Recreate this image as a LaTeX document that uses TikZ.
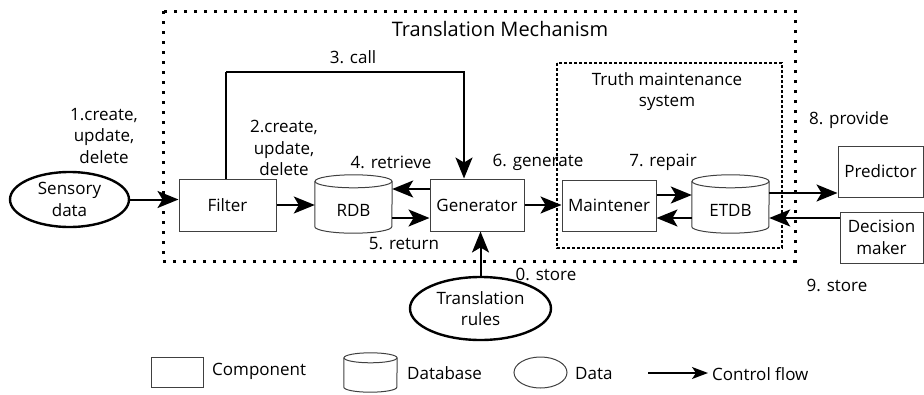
\documentclass[tikz,border=0pt]{standalone}
\usepackage{fontspec}
\setmainfont{Open Sans}
\usetikzlibrary{arrows.meta,shapes.geometric,calc}
\begin{document}
\begin{tikzpicture}[x=1pt,y=-1pt,
  every node/.style={font=\fontsize{17}{21.5}\selectfont, inner sep=0pt},
  comp/.style={draw=black!75, line width=1pt, rectangle, align=center},
  dbbox/.style={draw=none, rectangle},
  dataell/.style={draw=black, line width=2.4pt, ellipse, align=center},
  lbl/.style={align=center},
  arr/.style={line width=2pt, -{Stealth[length=21pt,width=17pt,inset=5pt]}},
  outerbox/.style={line width=3pt, dash pattern=on 3pt off 7pt},
  innerbox/.style={line width=1.3pt, dash pattern=on 3pt off 2pt}]
\useasboundingbox (0,0) rectangle (924,394);

% boxes
\draw[outerbox] (163,11) rectangle (795,261);
\draw[innerbox] (557,63) rectangle (782,248);
\node[lbl, font=\fontsize{20}{22}\selectfont] (title) at (500,29) {Translation Mechanism};
\node[lbl] (tms) at (667,91.5) {Truth maintenance\\system};

% nodes
\node[dataell, minimum width=119, minimum height=55] (sens) at (69.5,199.5) {Sensory\\data};
\node[comp, minimum width=97, minimum height=52] (filter) at (227.5,205) {Filter};
\node[dbbox, minimum width=77, minimum height=58] (rdb) at (353.5,204) {};
\node[comp, minimum width=94, minimum height=52] (gen) at (477,205) {Generator};
\node[comp, minimum width=94, minimum height=51] (maint) at (609,205.5) {Maintener};
\node[dbbox, minimum width=77, minimum height=58] (etdb) at (730.5,204) {};
\node[comp, minimum width=85, minimum height=51] (pred) at (880.5,171.5) {Predictor};
\node[comp, minimum width=83, minimum height=51] (dec) at (881.5,237.5) {Decision\\maker};
\node[dataell, minimum width=141, minimum height=63] (rules) at (480.5,308.5) {Translation\\rules};

% cylinders
\foreach \c in {rdb,etdb}{
  \draw[draw=black!75, line width=1pt, fill=white]
    ([yshift=-6.5pt]\c.north west) -- ([yshift=6.5pt]\c.south west)
    arc[start angle=180, end angle=360, x radius=38.5pt, y radius=6.5pt]
    -- ([yshift=-6.5pt]\c.north east);
  \draw[draw=black!75, line width=1pt] ($(\c.north)+(0,6.5)$) ellipse [x radius=38.5pt, y radius=6.5pt];
}
\node (rdbt) at ($(rdb)+(0,6)$) {RDB};
\node (etdbt) at ($(etdb)+(0,6)$) {ETDB};

% connectors
\draw[arr] (sens.east) -- (sens.east -| filter.west);
\draw[arr] (filter.east) -- (filter.east -| rdb.west);
\draw[arr] ([yshift=16pt]gen.west) -- ([yshift=16pt]gen.west -| rdb.east);
\draw[arr] ([yshift=-13pt]gen.west -| rdb.east) -- ([yshift=-13pt]gen.west);
\draw[line width=2pt] ([xshift=-1.5pt]filter.north) -- ++(0,-107) coordinate (c1);
\draw[arr] (c1) -| ([xshift=-13pt]gen.north);
\draw[arr] (gen.east) -- (gen.east -| maint.west);
\draw[arr] ([yshift=10.5pt]maint.east) -- ([yshift=10.5pt]maint.east -| etdb.west);
\draw[arr] ([yshift=-12.5pt]maint.east -| etdb.west) -- ([yshift=-12.5pt]maint.east);
\draw[arr] ([yshift=11pt]etdb.east) -- ([yshift=11pt]etdb.east -| pred.west);
\draw[arr] ([yshift=-14pt]etdb.east -| dec.west) -- ([yshift=-14pt]etdb.east);
\draw[arr] (rules.north) -- (rules.north |- gen.south);

% labels
\node[lbl] (l1) at (104,136) {1.create,\\update,\\delete};
\node[lbl] (l2) at (284,148) {2.create,\\update,\\delete};
\node[lbl] (l3) at (353,57) {3. call};
\node[lbl] (l4) at (391,162) {4. retrieve};
\node[lbl] (l5) at (404,244) {5. return};
\node[lbl] (l6) at (538,162) {6. generate};
\node[lbl] (l7) at (663,162) {7. repair};
\node[lbl] (l8) at (849,120) {8. provide};
\node[lbl] (l9) at (837,285) {9. store};
\node[lbl] (l0) at (546,274) {0. store};

% legend
\node[comp, minimum width=52, minimum height=30] (lgc) at (177,372) {};
\node[anchor=west] (lgct) at (212,371) {Component};
\node[dbbox, minimum width=53, minimum height=39] (lgd) at (370.5,372.5) {};
\draw[draw=black!75, line width=1pt]
  ([yshift=-5pt]lgd.north west) -- ([yshift=5pt]lgd.south west)
  arc[start angle=180, end angle=360, x radius=26.5pt, y radius=5pt]
  -- ([yshift=-5pt]lgd.north east);
\draw[draw=black!75, line width=1pt] ($(lgd.north)+(0,5)$) ellipse [x radius=26.5pt, y radius=5pt];
\node[anchor=west] (lgdt) at (407,373) {Database};
\node[draw=black!75, line width=1pt, ellipse, minimum width=53, minimum height=31] (lge) at (540.5,372.5) {};
\node[anchor=west] (lget) at (575,374) {Data};
\coordinate (lga) at (648,373);
\coordinate (lgb) at (708,373);
\node[anchor=west] (lgat) at (712,374) {Control flow};
\draw[line width=1.3pt, -{Stealth[length=16pt,width=12pt,inset=4pt]}] (lga) -- (lgb);
\end{tikzpicture}
\end{document}
